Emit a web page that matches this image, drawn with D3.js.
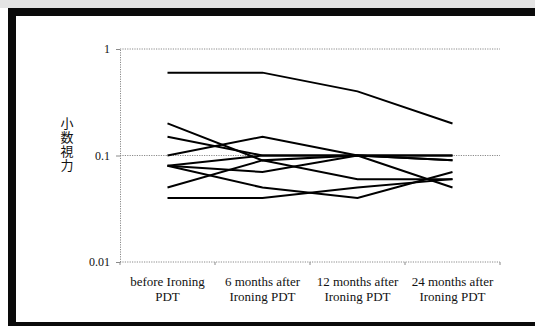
<!DOCTYPE html>
<html>
<head>
<meta charset="utf-8">
<script src="https://cdn.jsdelivr.net/npm/d3@7"></script>
<style>
  html, body { margin: 0; padding: 0; background: #fff; }
  svg { display: block; }
</style>
</head>
<body>
<svg id="chart" width="535" height="326"></svg>
<script>
// Time points after treatment
const categories = [
  ["before Ironing", "PDT"],
  ["6 months after", "Ironing PDT"],
  ["12 months after", "Ironing PDT"],
  ["24 months after", "Ironing PDT"]
];

// Decimal visual acuity per eye at each time point
const eye1 = [0.6, 0.6, 0.4, 0.2];
const eye2 = [0.1, 0.15, 0.1, 0.05];
const eye3 = [0.2, 0.09, 0.1, 0.1];
const eye4 = [0.15, 0.1, 0.1, 0.1];
const eye5 = [0.08, 0.1, 0.1, 0.09];
const eye6 = [0.08, 0.07, 0.1, 0.09];
const eye7 = [0.08, 0.05, 0.04, 0.07];
const eye8 = [0.05, 0.09, 0.06, 0.06];
const eye9 = [0.04, 0.04, 0.05, 0.06];
const series = [eye1, eye2, eye3, eye4, eye5, eye6, eye7, eye8, eye9];

const yTicks = [0.01, 0.1, 1];
const yTickLabels = ["0.01", "0.1", "1"];
const yTitle = "小数視力";

const serifFont = "'Liberation Serif', 'Times New Roman', 'DejaVu Serif', serif";

const svg = d3.select("#chart");
const W = 535, H = 326;

// Frame
svg.append("rect").attr("x", 0).attr("y", 0).attr("width", W).attr("height", 8).attr("fill", "#e4e4e4");
svg.append("rect").attr("x", 8).attr("y", 8).attr("width", W - 8).attr("height", 8).attr("fill", "#0a0a0a");
svg.append("rect").attr("x", 8).attr("y", 8).attr("width", 8).attr("height", H - 8).attr("fill", "#0a0a0a");
svg.append("rect").attr("x", 8).attr("y", 322).attr("width", W - 8).attr("height", 4).attr("fill", "#0a0a0a");

const plot = { left: 120, right: 500, top: 49, bottom: 262 };

const x = d3.scaleBand()
  .domain(d3.range(categories.length))
  .range([plot.left, plot.right]);

const y = d3.scaleLog()
  .domain([0.01, 1])
  .range([plot.bottom, plot.top]);

const dotted = "1.2,1.2";
const axisGrey = "#8a8a8a";

// Horizontal rules at each decade
svg.append("g").selectAll("line")
  .data(yTicks)
  .join("line")
  .attr("x1", plot.left).attr("x2", plot.right)
  .attr("y1", d => y(d)).attr("y2", d => y(d))
  .attr("stroke", axisGrey)
  .attr("stroke-width", 1)
  .attr("stroke-dasharray", dotted);

// Y axis
const yAxis = d3.axisLeft(y)
  .tickValues(yTicks)
  .tickFormat((d, i) => yTickLabels[i])
  .tickSize(4)
  .tickPadding(6);
const gy = svg.append("g").attr("transform", `translate(${plot.left},0)`).call(yAxis);
gy.select(".domain").attr("stroke", axisGrey).attr("stroke-dasharray", dotted);
gy.selectAll(".tick line").attr("stroke", axisGrey);
gy.selectAll(".tick text")
  .style("font-family", serifFont)
  .style("font-size", "12px")
  .attr("fill", "#111");

// X axis ticks at category boundaries
const bounds = d3.range(categories.length + 1).map(i => plot.left + i * x.bandwidth());
svg.append("g").selectAll("line")
  .data(bounds)
  .join("line")
  .attr("x1", d => d).attr("x2", d => d)
  .attr("y1", plot.bottom).attr("y2", plot.bottom + 3)
  .attr("stroke", axisGrey);

// Category labels
categories.forEach((lines, i) => {
  const cx = x(i) + x.bandwidth() / 2;
  const t = svg.append("text")
    .attr("x", cx).attr("y", 286)
    .attr("text-anchor", "middle")
    .attr("fill", "#111")
    .style("font-family", serifFont)
    .style("font-size", "13px");
  lines.forEach((s, j) => t.append("tspan").attr("x", cx).attr("dy", j ? 15 : 0).text(s));
});

// Vertical y-axis title
svg.append("text")
  .attr("x", 67)
  .attr("y", 117)
  .style("font-family", "'Noto Sans CJK JP', sans-serif")
  .style("font-size", "13px")
  .style("writing-mode", "vertical-rl")
  .style("letter-spacing", "1px")
  .attr("fill", "#111")
  .text(yTitle);

// Lines
const line = d3.line()
  .x((d, i) => x(i) + x.bandwidth() / 2)
  .y(d => y(d));

svg.append("g").selectAll("path")
  .data(series)
  .join("path")
  .attr("d", line)
  .attr("fill", "none")
  .attr("stroke", "#000")
  .attr("stroke-width", 2);
</script>
</body>
</html>
